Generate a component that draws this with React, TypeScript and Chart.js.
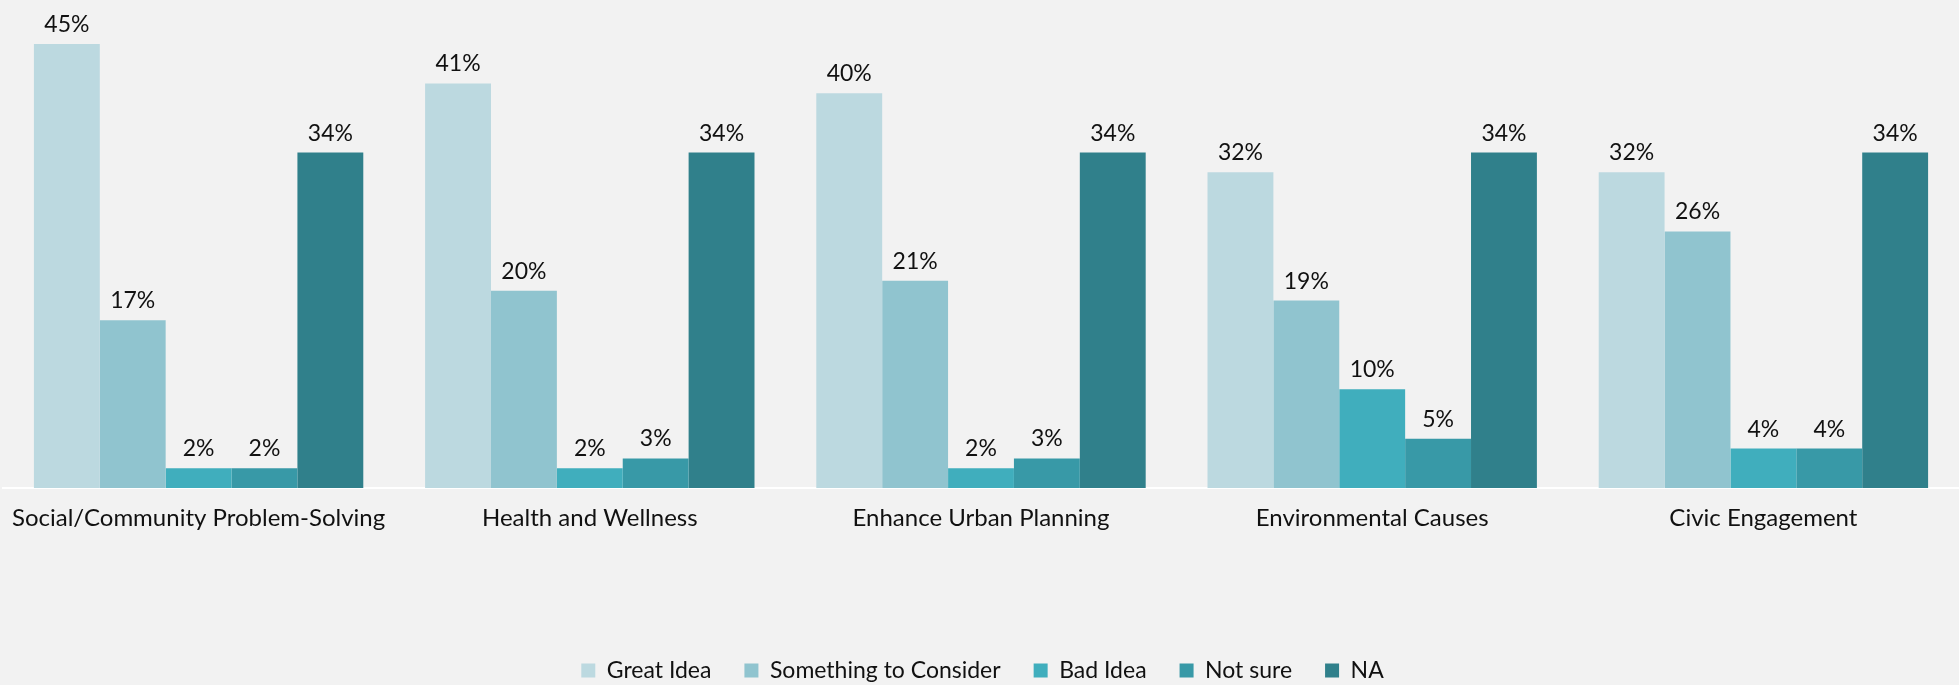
import React, { useEffect, useRef } from "react";
import { Chart, registerables } from "chart.js";

Chart.register(...registerables);

const categories = [
  "Social/Community Problem-Solving",
  "Health and Wellness",
  "Enhance Urban Planning",
  "Environmental Causes",
  "Civic Engagement",
];
const greatIdea = [45, 41, 40, 32, 32];
const somethingToConsider = [17, 20, 21, 19, 26];
const badIdea = [2, 2, 2, 10, 4];
const notSure = [2, 3, 3, 5, 4];
const na = [34, 34, 34, 34, 34];

const seriesNames = ["Great Idea", "Something to Consider", "Bad Idea", "Not sure", "NA"];
const seriesColors = ["#bcd9e0", "#90c4cf", "#40aebd", "#3899a7", "#30808b"];

const FONT = "Lato, 'Open Sans', sans-serif";
const TEXT_COLOR = "#111111";

const labelPlugin = {
  id: "valueLabels",
  afterDatasetsDraw(chart: any) {
    const ctx = chart.ctx;
    ctx.save();
    ctx.font = `23px ${FONT}`;
    ctx.fillStyle = TEXT_COLOR;
    ctx.textAlign = "center";
    ctx.textBaseline = "alphabetic";
    chart.data.datasets.forEach((ds: any, i: number) => {
      const meta = chart.getDatasetMeta(i);
      meta.data.forEach((bar: any, j: number) => {
        ctx.fillText(`${ds.data[j]}%`, bar.x, bar.y - 12);
      });
    });
    ctx.restore();
  },
};

export default function App() {
  const ref = useRef<HTMLCanvasElement>(null);
  useEffect(() => {
    if (!ref.current) return;
    const seriesData = [greatIdea, somethingToConsider, badIdea, notSure, na];
    const chart = new Chart(ref.current, {
      type: "bar",
      data: {
        labels: categories,
        datasets: seriesNames.map((name, i) => ({
          label: name,
          data: seriesData[i],
          backgroundColor: seriesColors[i],
          borderWidth: 0,
          barPercentage: 1,
          categoryPercentage: 0.842,
        })),
      },
      options: {
        animation: false,
        responsive: false,
        maintainAspectRatio: false,
        layout: { padding: { top: 44, left: 3, right: -3, bottom: -7 } },
        plugins: {
          tooltip: { enabled: false },
          legend: {
            position: "bottom",
            labels: {
              font: { family: FONT, size: 23 },
              color: TEXT_COLOR,
              boxWidth: 14,
              boxHeight: 14,
              padding: 33,
            },
          },
        },
        scales: {
          x: {
            grid: { display: false, drawTicks: false },
            border: { display: true, color: "#ffffff", width: 2 },
            ticks: {
              font: { family: FONT, size: 24 },
              color: TEXT_COLOR,
              padding: 16,
              maxRotation: 0,
              autoSkip: false,
            },
            afterFit: (scale: any) => {
              scale.height = 138;
              scale.paddingLeft = 0;
              scale.paddingRight = 0;
            },
          },
          y: {
            display: false,
            min: 0,
            max: 45,
          },
        },
      },
      plugins: [labelPlugin],
    });
    return () => chart.destroy();
  }, []);
  return (
    <div style={{ position: "fixed", left: 0, top: 0, width: 1959, height: 685, background: "#f2f2f2" }}>
      <canvas ref={ref} width={1959} height={685} style={{ display: "block" }} />
    </div>
  );
}
